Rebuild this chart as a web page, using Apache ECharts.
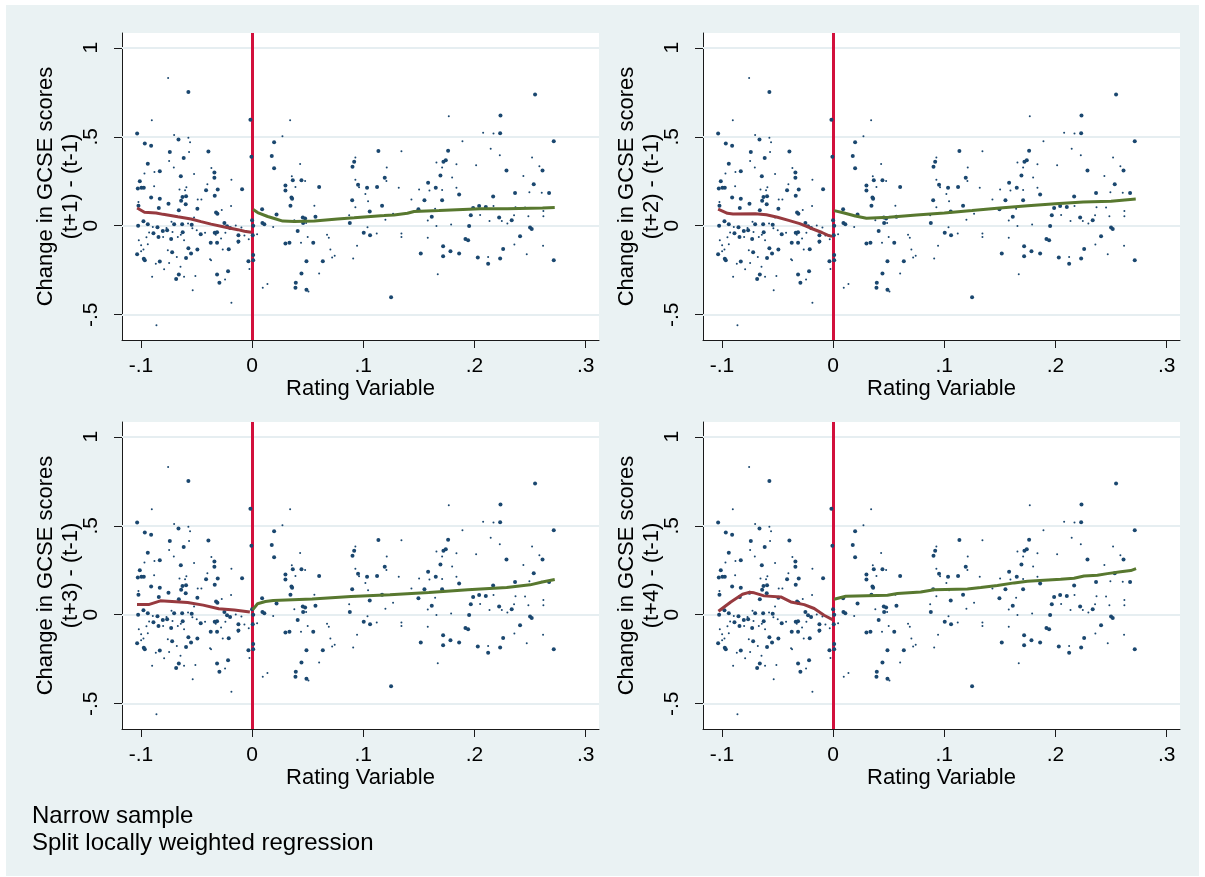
<!DOCTYPE html>
<html><head><meta charset="utf-8">
<script src="https://cdn.jsdelivr.net/npm/echarts@6/dist/echarts.min.js"></script>
<style>html,body{margin:0;padding:0;background:#fff}#c{position:absolute;left:6px;top:5px;width:1193px;height:871px}</style>
</head><body><div id="c"></div>
<script>
// ---------- data ----------
const xTicks = [-0.1, 0, 0.1, 0.2, 0.3];
const xTickLabels = ['-.1', '0', '.1', '.2', '.3'];
const yTicks = [-0.5, 0, 0.5, 1];
const yTickLabels = ['-.5', '0', '.5', '1'];
const cutoff = 0;
const yTitle = 'Change in GCSE scores';
const panelOutcomes = ['(t+1) - (t-1)', '(t+2) - (t-1)', '(t+3) - (t-1)', '(t+4) - (t-1)'];
const xTitle = 'Rating Variable';
const notes = ['Narrow sample', 'Split locally weighted regression'];

// [rating, change, weight class (1 small, 2 large)]
const points = [
[-0.0573,0.752,2],[-0.0755,0.830,1],[-0.0902,0.593,1],[-0.1034,0.518,2],[-0.0701,0.510,1],
[-0.0662,0.484,2],[-0.0573,0.495,1],[-0.0558,0.469,1],[-0.0965,0.462,2],[-0.0908,0.450,2],
[-0.0740,0.415,2],[-0.0567,0.415,1],[-0.0393,0.417,2],[-0.0615,0.381,2],[-0.0938,0.349,2],
[-0.0746,0.364,1],[-0.0704,0.327,1],[-0.0878,0.302,1],[-0.0830,0.306,2],[-0.0968,0.293,1],
[-0.0641,0.278,2],[-0.0522,0.291,1],[-0.0366,0.325,1],[-0.0339,0.299,2],[-0.0339,0.269,2],
[-0.1010,0.250,2],[-0.0402,0.233,1],[-0.0186,0.259,1],[-0.0881,0.222,1],[-0.1028,0.209,2],
[-0.0995,0.213,2],[-0.0974,0.213,2],[-0.0653,0.203,1],[-0.0603,0.199,1],[-0.0591,0.216,1],
[-0.0414,0.199,2],[-0.0309,0.203,2],[-0.0090,0.205,2],[-0.0908,0.158,2],[-0.0830,0.151,2],
[-0.0626,0.162,2],[-0.0594,0.166,2],[-0.0638,0.140,2],[-0.0489,0.147,1],[-0.0456,0.147,1],
[-0.0336,0.169,2],[-0.1022,0.134,1],[-0.0752,0.123,2],[-0.0597,0.121,2],[-0.0492,0.095,2],
[-0.0324,0.074,2],[-0.0312,0.068,2],[-0.0273,0.089,1],[-0.0189,0.111,1],[-0.0659,0.087,2],
[-0.0839,0.100,2],[-0.1022,0.113,2],[-0.0977,0.025,2],[-0.1025,0.000,2],[-0.0938,0.008,2],
[-0.0893,-0.007,1],[-0.0851,-0.008,2],[-0.0770,-0.012,1],[-0.0725,0.023,1],[-0.0701,0.008,2],
[-0.0629,0.008,2],[-0.0624,-0.037,2],[-0.0576,0.012,1],[-0.0543,0.005,2],[-0.0537,-0.014,1],
[-0.0522,0.046,1],[-0.0803,-0.029,2],[-0.0926,-0.038,1],[-0.0887,-0.042,2],[-0.0950,-0.065,1],
[-0.1019,-0.081,1],[-0.0998,-0.110,1],[-0.0938,-0.104,1],[-0.0842,-0.063,2],[-0.0800,-0.063,1],
[-0.0764,-0.025,2],[-0.0728,-0.074,2],[-0.0716,-0.035,1],[-0.0668,-0.063,1],[-0.0641,-0.050,1],
[-0.0612,-0.081,1],[-0.0498,-0.025,1],[-0.0462,-0.048,2],[-0.0423,-0.040,1],[-0.0336,-0.040,2],
[-0.0327,-0.051,1],[-0.0315,-0.037,2],[-0.0372,-0.096,2],[-0.0315,-0.096,2],[-0.0279,-0.072,1],
[-0.0249,0.016,2],[-0.0240,-0.040,1],[-0.0225,-0.003,2],[-0.0198,-0.012,2],[-0.0147,0.001,1],
[-0.0123,-0.053,2],[-0.0123,-0.089,2],[-0.0096,-0.010,1],[-0.0069,-0.055,1],[-0.1034,-0.160,2],
[-0.0974,-0.186,2],[-0.0965,-0.194,2],[-0.0998,-0.143,1],[-0.0977,-0.134,1],[-0.0830,-0.201,2],
[-0.0866,-0.213,1],[-0.0791,-0.244,1],[-0.0746,-0.209,1],[-0.0758,-0.138,1],[-0.0719,-0.149,2],
[-0.0677,-0.175,1],[-0.0644,-0.231,1],[-0.0594,-0.181,2],[-0.0573,-0.126,2],[-0.0549,-0.156,2],
[-0.0510,-0.282,1],[-0.0492,-0.134,2],[-0.0659,-0.274,2],[-0.0683,-0.299,2],[-0.0899,-0.287,1],
[-0.0612,-0.287,1],[-0.0534,-0.362,1],[-0.0378,-0.188,1],[-0.0369,-0.194,1],[-0.0315,-0.274,2],
[-0.0294,-0.321,2],[-0.0264,-0.134,1],[-0.0243,-0.302,1],[-0.0216,-0.256,2],[-0.0210,-0.132,2],
[-0.0186,-0.433,1],[-0.0126,-0.096,1],[-0.0860,-0.559,1],
[-0.0015,0.596,2],[-0.0006,0.387,2],[0.0010,0.000,2],[0.0000,0.031,2],[0.0006,-0.053,2],
[0.0010,-0.164,2],[0.0010,-0.194,2],[-0.0024,-0.243,1],[-0.0033,-0.200,2],[-0.0030,-0.076,1],
[0.0177,0.392,2],[0.0198,0.469,2],[0.0198,0.323,2],[0.0273,0.503,1],[0.0342,0.593,1],
[0.0300,0.226,2],[0.0300,0.198,2],[0.0357,0.278,1],[0.0366,0.256,2],[0.0432,0.347,1],
[0.0444,0.256,2],[0.0477,0.252,1],[0.0345,0.113,2],[0.0354,0.158,2],[0.0360,0.151,2],
[0.0390,0.218,1],[0.0456,0.046,2],[0.0477,0.040,2],[0.0459,0.016,2],[0.0486,0.016,1],
[0.0380,0.031,1],[0.0560,0.113,1],[0.0570,0.050,2],[0.0603,0.218,2],[0.0410,-0.029,2],
[0.0500,-0.063,1],[0.0440,-0.096,1],[0.0550,-0.096,2],[0.0300,-0.100,2],[0.0336,-0.095,2],
[0.0489,-0.199,2],[0.0636,-0.199,2],[0.0674,-0.050,1],[0.0690,-0.068,1],[0.0704,-0.134,1],
[0.0743,-0.169,1],[0.0720,-0.179,1],[0.0603,-0.269,1],[0.0444,-0.269,2],[0.0393,-0.321,2],
[0.0390,-0.349,2],[0.0489,-0.359,2],[0.0507,-0.370,1],[0.0096,-0.349,1],[0.0138,-0.327,1],
[0.0190,-0.007,1],[0.0090,0.093,2],[0.0093,0.016,2],[0.0110,0.008,2],[0.0220,0.063,2],
[0.0045,-0.048,1],
[0.2545,0.737,2],[0.2234,0.619,2],[0.1769,0.615,1],[0.2078,0.523,1],[0.2171,0.518,1],
[0.2231,0.520,2],[0.2713,0.475,2],[0.1892,0.475,1],[0.2146,0.432,1],[0.1136,0.420,2],
[0.1763,0.422,2],[0.1343,0.419,1],[0.2228,0.396,1],[0.2518,0.383,1],[0.0918,0.359,2],
[0.0903,0.331,2],[0.0929,0.383,1],[0.1721,0.359,2],[0.1742,0.368,2],[0.1658,0.355,1],
[0.1838,0.345,1],[0.2015,0.340,1],[0.1709,0.327,1],[0.1211,0.327,1],[0.2288,0.310,2],
[0.2612,0.310,2],[0.2584,0.334,1],[0.1193,0.269,2],[0.1208,0.252,1],[0.1694,0.282,2],
[0.1799,0.271,1],[0.2440,0.280,1],[0.0929,0.259,1],[0.0953,0.231,2],[0.0962,0.216,1],
[0.1034,0.213,2],[0.1124,0.218,2],[0.1319,0.214,1],[0.1583,0.241,2],[0.1652,0.213,2],
[0.1709,0.201,1],[0.1838,0.214,1],[0.1502,0.203,1],[0.1595,0.198,1],[0.1862,0.175,2],
[0.2533,0.233,2],[0.2494,0.188,1],[0.2605,0.186,1],[0.2671,0.184,2],[0.2365,0.184,2],
[0.2168,0.164,2],[0.0900,0.143,2],[0.1019,0.179,1],[0.1043,0.138,1],[0.0929,0.104,1],
[0.1169,0.113,2],[0.1058,0.080,2],[0.1550,0.143,2],[0.1433,0.147,1],[0.1709,0.143,2],
[0.1646,0.096,1],[0.1496,0.093,2],[0.1988,0.100,2],[0.2042,0.111,2],[0.2102,0.106,2],
[0.2171,0.111,1],[0.2369,0.104,1],[0.2455,0.102,1],[0.2620,0.083,1],[0.0873,0.059,1],
[0.1199,0.033,1],[0.1268,0.068,1],[0.1967,0.059,2],[0.2051,0.061,1],[0.2222,0.046,2],
[0.2335,0.031,2],[0.2296,0.012,1],[0.2356,0.059,1],[0.2485,0.053,1],[0.2620,0.053,1],
[0.1616,0.051,2],[0.1580,0.029,1],[0.0879,0.016,2],[0.1038,-0.008,1],[0.1004,-0.040,2],
[0.1061,-0.053,2],[0.1121,-0.044,1],[0.1343,-0.044,1],[0.1343,-0.063,1],[0.1658,-0.001,1],
[0.1790,0.007,1],[0.1952,-0.001,2],[0.2500,-0.010,2],[0.2515,-0.018,2],[0.2410,-0.059,2],
[0.1580,-0.068,1],[0.1919,-0.074,2],[0.1943,-0.081,2],[0.2135,0.027,1],[0.2246,0.027,1],
[0.0944,-0.113,1],[0.0909,-0.184,1],[0.1517,-0.156,2],[0.1718,-0.115,2],[0.1784,-0.143,2],
[0.1862,-0.156,2],[0.1718,-0.171,2],[0.2030,-0.179,2],[0.2123,-0.213,2],[0.2123,-0.175,1],
[0.2231,-0.184,2],[0.2258,-0.130,2],[0.2359,-0.106,1],[0.2470,-0.160,1],[0.2617,-0.113,1],
[0.2713,-0.194,2],[0.1670,-0.272,1],[0.1250,-0.402,2]
];

// split lowess fits, left and right of the cut-off, one per outcome
const lowessLeft1 = [[-0.1034,0.100],[-0.0968,0.076],[-0.0863,0.072],[-0.080,0.064],[-0.0668,0.050],[-0.0549,0.038],[-0.0459,0.023],[-0.0369,0.009],[-0.0249,-0.007],[-0.0129,-0.022],[-0.0069,-0.031],[-0.0009,-0.037]];
const lowessRight1 = [[0.001,0.091],[0.005,0.074],[0.014,0.052],[0.020,0.041],[0.0276,0.026],[0.038,0.024],[0.056,0.026],[0.0768,0.038],[0.0918,0.045],[0.1038,0.051],[0.1187,0.057],[0.1277,0.061],[0.1397,0.070],[0.1457,0.080],[0.1682,0.085],[0.2056,0.095],[0.2296,0.096],[0.2612,0.099],[0.2722,0.102]];
const lowessLeft2 = [[-0.1034,0.093],[-0.095,0.070],[-0.09,0.066],[-0.07,0.068],[-0.06,0.062],[-0.05,0.048],[-0.04,0.030],[-0.03,0.012],[-0.02,-0.014],[-0.01,-0.038],[-0.004,-0.055],[-0.0009,-0.060]];
const lowessRight2 = [[0.001,0.085],[0.01,0.072],[0.02,0.055],[0.03,0.042],[0.05,0.048],[0.075,0.060],[0.1,0.072],[0.125,0.085],[0.15,0.100],[0.175,0.112],[0.2,0.124],[0.225,0.133],[0.25,0.138],[0.2722,0.150]];
const lowessLeft3 = [[-0.1035,0.057],[-0.0931,0.057],[-0.0825,0.078],[-0.0756,0.076],[-0.058,0.069],[-0.044,0.054],[-0.030,0.034],[-0.016,0.027],[-0.002,0.015]];
const lowessRight3 = [[0.0005,0.027],[0.0049,0.062],[0.012,0.074],[0.019,0.080],[0.054,0.088],[0.089,0.103],[0.124,0.112],[0.159,0.125],[0.194,0.140],[0.229,0.153],[0.250,0.168],[0.261,0.184],[0.2722,0.198]];
const lowessLeft4 = [[-0.1031,0.020],[-0.092,0.072],[-0.0815,0.115],[-0.0755,0.126],[-0.0710,0.123],[-0.062,0.106],[-0.047,0.100],[-0.038,0.072],[-0.026,0.057],[-0.017,0.035],[-0.0081,-0.003],[-0.0006,-0.027]];
const lowessRight4 = [[0.0009,0.087],[0.0114,0.104],[0.0489,0.110],[0.0579,0.119],[0.0788,0.128],[0.0908,0.141],[0.1208,0.145],[0.1328,0.153],[0.1478,0.164],[0.1628,0.179],[0.1748,0.188],[0.2047,0.199],[0.2167,0.205],[0.2257,0.218],[0.2377,0.222],[0.2467,0.231],[0.2587,0.241],[0.2677,0.248],[0.2725,0.259]];

// ---------- chart ----------
const lowessLeft = [lowessLeft1, lowessLeft2, lowessLeft3, lowessLeft4];
const lowessRight = [lowessRight1, lowessRight2, lowessRight3, lowessRight4];

const OX = 6, OY = 5;
const panels = [{l:122,t:33},{l:703,t:33},{l:122,t:422},{l:703,t:422}];
const PW = 477, PH = 307;
const FONT = '"Liberation Sans", Arial, sans-serif';
const lab = (ticks, labels) => v => { const i = ticks.findIndex(t => Math.abs(t - v) < 1e-9); return i >= 0 ? labels[i] : ''; };

const grid = [], xAxis = [], yAxis = [], series = [];
panels.forEach((p, i) => {
  grid.push({left: p.l - OX, top: p.t - OY, width: PW, height: PH, show: true, backgroundColor: '#ffffff', borderWidth: 0, containLabel: false, outerBoundsMode: 'none'});
  xAxis.push({
    gridIndex: i, type: 'value', min: -0.117, max: 0.312,
    axisLine: {show: true, onZero: false, lineStyle: {color: '#1a1a1a', width: 1}},
    axisTick: {show: true, length: 8, customValues: xTicks, lineStyle: {color: '#1a1a1a', width: 1}},
    axisLabel: {customValues: xTicks, formatter: lab(xTicks, xTickLabels), fontSize: 21, color: '#000', fontFamily: FONT, margin: 16},
    splitLine: {show: false},
    name: xTitle, nameLocation: 'middle', nameGap: 38, nameMoveOverlap: false,
    nameTextStyle: {fontSize: 22, color: '#000', fontFamily: FONT}
  });
  yAxis.push({
    gridIndex: i, type: 'value', min: -0.642, max: 1.083,
    axisLine: {show: true, onZero: false, lineStyle: {color: '#1a1a1a', width: 1}},
    axisTick: {show: true, length: 8, customValues: yTicks, lineStyle: {color: '#1a1a1a', width: 1}},
    axisLabel: {customValues: yTicks, formatter: lab(yTicks, yTickLabels), rotate: 90, fontSize: 21, color: '#000', fontFamily: FONT, margin: 20},
    splitLine: {show: false},
    name: yTitle + '\n' + panelOutcomes[i], nameLocation: 'middle', nameRotate: 90, nameGap: 39, nameMoveOverlap: false,
    nameTextStyle: {fontSize: 22, lineHeight: 25, color: '#000', fontFamily: FONT}
  });
  series.push({
    type: 'scatter', xAxisIndex: i, yAxisIndex: i, z: 3,
    data: points.map(d => [d[0], d[1], d[2]]),
    symbol: 'circle',
    symbolSize: v => (v[2] === 2 ? 4 : 2),
    itemStyle: {color: '#1a476f', opacity: 1},
    silent: true,
    markLine: {
      z: 1, silent: true, symbol: ['none', 'none'], label: {show: false},
      lineStyle: {color: '#e6eef1', width: 2, type: 'solid'},
      data: yTicks.map(v => ({yAxis: v}))
    }
  });
  series.push({
    type: 'line', xAxisIndex: i, yAxisIndex: i, z: 4,
    data: lowessLeft[i], showSymbol: false, symbol: 'none',
    lineStyle: {color: '#973a3f', width: 3}, silent: true,
    markLine: {
      z: 2, silent: true, symbol: ['none', 'none'], label: {show: false},
      lineStyle: {color: '#d2103c', width: 3, type: 'solid'},
      data: [{xAxis: cutoff}]
    }
  });
  series.push({
    type: 'line', xAxisIndex: i, yAxisIndex: i, z: 4,
    data: lowessRight[i], showSymbol: false, symbol: 'none',
    lineStyle: {color: '#58782f', width: 3}, silent: true
  });
});

const chart = echarts.init(document.getElementById('c'), null, {renderer: 'canvas'});
chart.setOption({
  animation: false,
  backgroundColor: '#eaf2f3',
  grid, xAxis, yAxis, series,
  graphic: notes.map((t, k) => ({
    type: 'text', left: 32 - OX, top: 804 - OY + k * 27,
    style: {text: t, fill: '#000', font: '24px ' + FONT}
  }))
});
</script>
</body></html>
